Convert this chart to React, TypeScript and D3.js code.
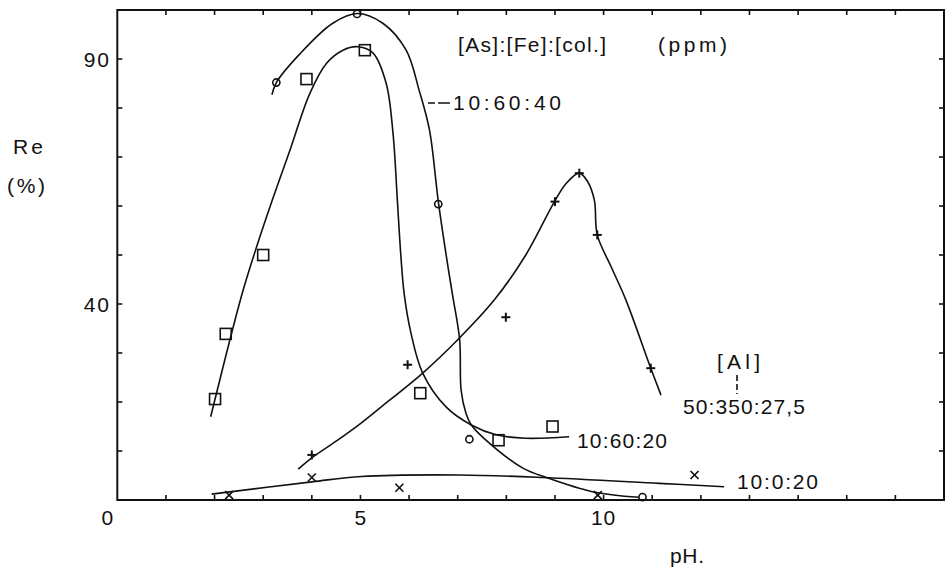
import React from 'react';
import * as d3 from 'd3';

const WIDTH = 948;
const HEIGHT = 568;

// Measured recovery (Re, %) against pH for each [As]:[Fe]:[col.] system
const phCircle = [3.27, 4.93, 6.6, 7.24, 10.8];
const reCircle = [85.2, 99.2, 60.4, 12.4, 0.6];

const phSquare = [2.01, 2.23, 3.0, 3.89, 5.09, 6.23, 7.84, 8.95];
const reSquare = [20.6, 33.9, 50.0, 85.9, 91.8, 21.8, 12.2, 15.0];

const phPlus = [4.0, 5.97, 7.99, 9.0, 9.5, 9.87, 10.97];
const rePlus = [9.2, 27.6, 37.3, 60.9, 66.7, 54.1, 26.9];

const phCross = [2.3, 4.0, 5.8, 9.88, 11.87];
const reCross = [1.0, 4.6, 2.5, 1.0, 5.1];

// Hand-fitted trend curves through each series
const fitCirclePh = [3.18, 3.27, 3.75, 4.43, 4.93, 5.46, 5.94, 6.21, 6.42, 6.6, 6.8, 6.9, 7.04, 7.07, 7.17, 7.28, 7.65, 8.34, 8.82, 9.77, 10.73];
const fitCircleRe = [82.7, 85.2, 91.0, 97.3, 99.3, 97.3, 91.8, 83.5, 75.5, 61.0, 47.6, 41.5, 32.7, 22.4, 17.7, 15.3, 11.6, 6.5, 4.6, 1.7, 0.55];

const fitSquarePh = [1.92, 2.01, 2.59, 3.07, 3.55, 3.96, 4.3, 4.64, 4.95, 5.26, 5.53, 5.67, 5.76, 5.83, 5.9, 6.04, 6.28, 6.76, 7.28, 7.79, 8.4, 9.29];
const fitSquareRe = [17.0, 20.6, 42.9, 57.8, 71.4, 83.0, 89.1, 91.8, 92.5, 91.2, 85.0, 74.8, 61.0, 50.0, 42.0, 34.0, 25.9, 19.0, 15.3, 13.3, 12.6, 12.9];

const fitPlusPh = [3.72, 4.0, 4.5, 5.0, 5.39, 6.28, 7.0, 7.75, 8.4, 8.99, 9.23, 9.5, 9.67, 9.81, 9.87, 10.16, 10.46, 10.97, 11.18];
const fitPlusRe = [6.3, 8.6, 12.0, 15.6, 18.7, 25.9, 32.7, 40.8, 50.0, 60.9, 64.6, 66.7, 65.0, 61.2, 54.1, 47.5, 40.8, 26.9, 21.4];

const fitCrossPh = [1.94, 4.0, 5.02, 7.04, 8.75, 11.14, 12.48];
const fitCrossRe = [1.2, 3.7, 4.8, 5.1, 4.6, 3.4, 2.7];

// Axis labelling
const xTickValues = d3.range(1, 17);
const yTickValues = d3.range(10, 100, 10);
const xTickLabels = [0, 5, 10];
const yTickLabels = [40, 90];

const FONT = "'Liberation Sans', Arial, sans-serif";

const zip = (a: number[], b: number[]): [number, number][] => a.map((v, i) => [v, b[i]]);

export default function App() {
  const x = d3.scaleLinear().domain([0, 17]).range([117.3, 944]);
  const y = d3.scaleLinear().domain([0, 100]).range([500, 10]);

  const line = d3
    .line<[number, number]>()
    .x((d) => x(d[0]))
    .y((d) => y(d[1]))
    .curve(d3.curveCatmullRom.alpha(0.5));

  const fits = [
    zip(fitCirclePh, fitCircleRe),
    zip(fitSquarePh, fitSquareRe),
    zip(fitPlusPh, fitPlusRe),
    zip(fitCrossPh, fitCrossRe),
  ];

  const [x0, x1] = x.range();
  const [y0, y1] = y.range();
  const tick = 5;

  const label = (
    text: string,
    tx: number,
    ty: number,
    len?: number,
    extra: Record<string, any> = {}
  ) => (
    <text
      x={tx}
      y={ty}
      fontFamily={FONT}
      fontSize={21}
      fill="#111"
      {...(len ? { textLength: len, lengthAdjust: 'spacing' } : {})}
      {...extra}
    >
      {text}
    </text>
  );

  return (
    <svg
      width={WIDTH}
      height={HEIGHT}
      style={{ position: 'absolute', left: 0, top: 0, background: '#fff' }}
    >
      <rect x={0} y={0} width={WIDTH} height={HEIGHT} fill="#fff" />

      {/* frame */}
      <rect x={x0} y={y1} width={x1 - x0} height={y0 - y1} fill="none" stroke="#111" strokeWidth={2} />

      {/* inward ticks on all four sides */}
      {xTickValues.map((v) => (
        <g key={'xt' + v} stroke="#111" strokeWidth={1.6}>
          <line x1={x(v)} x2={x(v)} y1={y0} y2={y0 - tick} />
          <line x1={x(v)} x2={x(v)} y1={y1} y2={y1 + tick} />
        </g>
      ))}
      {yTickValues.map((v) => (
        <g key={'yt' + v} stroke="#111" strokeWidth={1.6}>
          <line x1={x0} x2={x0 + tick} y1={y(v)} y2={y(v)} />
          <line x1={x1} x2={x1 - tick} y1={y(v)} y2={y(v)} />
        </g>
      ))}

      {/* tick labels */}
      {xTickLabels.map((v) => (
        <text
          key={'xl' + v}
          x={x(v) - (v === 0 ? 10 : 0)}
          y={525}
          textAnchor="middle"
          fontFamily={FONT}
          fontSize={21}
          fill="#111"
          letterSpacing={v >= 10 ? 1 : 0}
        >
          {v}
        </text>
      ))}
      {yTickLabels.map((v) => (
        <text
          key={'yl' + v}
          x={111}
          y={y(v) + 7.5}
          textAnchor="end"
          fontFamily={FONT}
          fontSize={21}
          fill="#111"
          letterSpacing={2}
        >
          {v}
        </text>
      ))}

      {/* axis titles */}
      {label('Re', 13, 154, 30)}
      {label('(%)', 7, 193, 38)}
      {label('pH.', 670, 563, 34)}

      {/* fitted curves */}
      {fits.map((pts, i) => (
        <path key={'f' + i} d={line(pts) ?? ''} fill="none" stroke="#111" strokeWidth={1.6} />
      ))}

      {/* markers */}
      {zip(phCircle, reCircle).map(([px, py], i) => (
        <circle key={'c' + i} cx={x(px)} cy={y(py)} r={3.6} fill="none" stroke="#111" strokeWidth={1.6} />
      ))}
      {zip(phSquare, reSquare).map(([px, py], i) => (
        <rect
          key={'s' + i}
          x={x(px) - 5.5}
          y={y(py) - 5.5}
          width={11}
          height={11}
          fill="none"
          stroke="#111"
          strokeWidth={1.6}
        />
      ))}
      {zip(phPlus, rePlus).map(([px, py], i) => (
        <g key={'p' + i} stroke="#111" strokeWidth={2}>
          <line x1={x(px) - 4.5} x2={x(px) + 4.5} y1={y(py)} y2={y(py)} />
          <line x1={x(px)} x2={x(px)} y1={y(py) - 4.5} y2={y(py) + 4.5} />
        </g>
      ))}
      {zip(phCross, reCross).map(([px, py], i) => (
        <g key={'x' + i} stroke="#111" strokeWidth={1.6}>
          <line x1={x(px) - 4} x2={x(px) + 4} y1={y(py) - 4} y2={y(py) + 4} />
          <line x1={x(px) - 4} x2={x(px) + 4} y1={y(py) + 4} y2={y(py) - 4} />
        </g>
      ))}

      {/* legend / annotations */}
      {label('[As]:[Fe]:[col.]', 458, 52, 148)}
      {label('(ppm)', 658, 52, 69)}

      <line x1={428} x2={450} y1={103} y2={103} stroke="#111" strokeWidth={1.6} strokeDasharray="7,3,12" />
      {label('10:60:40', 453, 110, 108)}
      {label('10:60:20', 577, 448, 90)}
      {label('10:0:20', 737, 489, 81)}

      {label('[Al]', 717, 369, 43)}
      <line x1={737} x2={737} y1={375} y2={394} stroke="#111" strokeWidth={1.6} strokeDasharray="6,3" />
      {label('50:350:27,5', 683, 414, 122)}
    </svg>
  );
}
